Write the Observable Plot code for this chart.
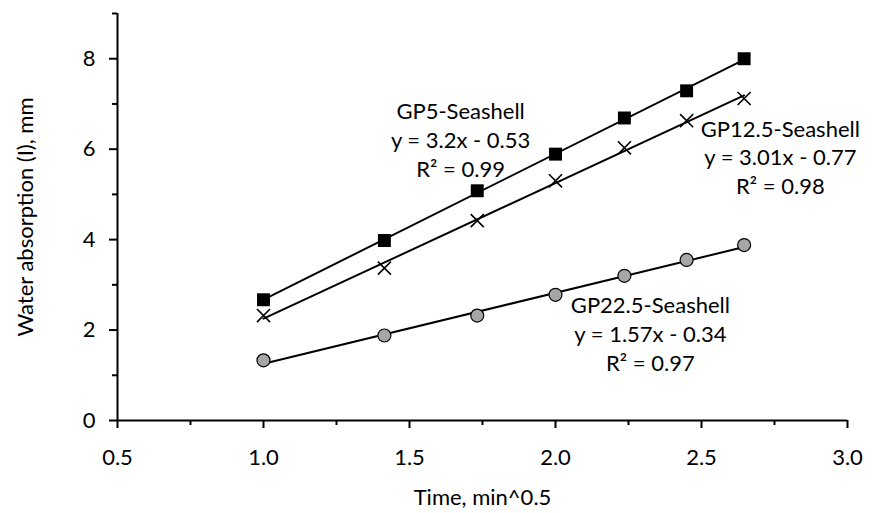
<!DOCTYPE html>
<html>
<head>
<meta charset="utf-8">
<script src="https://cdn.jsdelivr.net/npm/d3@7"></script>
<script src="https://cdn.jsdelivr.net/npm/@observablehq/plot@0.6"></script>
<style>
  html, body { margin: 0; padding: 0; background: #fff; }
  #chart { width: 872px; height: 513px; }
</style>
</head>
<body>
<div id="chart"></div>
<script>
// x = sqrt(time in minutes)
const xValues = [1.0, 1.414, 1.732, 2.0, 2.236, 2.449, 2.646];
const gp5 = [2.67, 3.98, 5.08, 5.89, 6.69, 7.29, 8.0];
const gp125 = [2.32, 3.37, 4.42, 5.30, 6.03, 6.63, 7.12];
const gp225 = [1.33, 1.88, 2.32, 2.78, 3.20, 3.55, 3.88];

const seriesNames = ["GP5-Seashell", "GP12.5-Seashell", "GP22.5-Seashell"];
const equations = ["y = 3.2x - 0.53", "y = 3.01x - 0.77", "y = 1.57x - 0.34"];
const r2 = ["R² = 0.99", "R² = 0.98", "R² = 0.97"];
// label anchor positions (data coords) for the trendline annotations
const labelX = [1.675, 2.77, 2.325];
const labelY = [6.23, 5.85, 1.94];

const xTicks = [0.5, 1.0, 1.5, 2.0, 2.5, 3.0];
const xMinor = [0.75, 1.25, 1.75, 2.25, 2.75];
const yTicks = [0, 2, 4, 6, 8];
const yMinor = [1, 3, 5, 7, 9];

const toRows = (vals, name) => vals.map((v, j) => ({series: name, x: xValues[j], y: v}));
const rows5 = toRows(gp5, seriesNames[0]);
const rows125 = toRows(gp125, seriesNames[1]);
const rows225 = toRows(gp225, seriesNames[2]);
const rows = [...rows5, ...rows125, ...rows225];
const labels = seriesNames.map((s, i) => ({text: s + "\n" + equations[i] + "\n" + r2[i], x: labelX[i], y: labelY[i]}));

const font = "Lato, 'Open Sans', sans-serif";
const fs = 22;

const plot = Plot.plot({
  width: 872,
  height: 513,
  marginLeft: 117,
  marginRight: 25,
  marginTop: 13,
  marginBottom: 93,
  style: {fontFamily: font, fontSize: fs + "px", color: "black", background: "white"},
  x: {domain: [0.5, 3.0]},
  y: {domain: [0, 9]},
  marks: [
    Plot.axisX({ticks: xMinor, tickSize: 5, tickFormat: () => "", strokeWidth: 2, label: null}),
    Plot.axisX({ticks: xTicks, tickSize: 8, tickPadding: 21, strokeWidth: 2, tickFormat: d3.format(".1f"),
      label: "Time, min^0.5", labelAnchor: "center", labelOffset: 84, labelArrow: "none", fontSize: fs}),
    Plot.axisY({ticks: yMinor, tickSize: 5, tickFormat: () => "", strokeWidth: 2, label: null}),
    Plot.axisY({ticks: yTicks, tickSize: 8, tickPadding: 14, strokeWidth: 2, tickFormat: d3.format("d"),
      label: "Water absorption (I), mm", labelAnchor: "center", labelOffset: 100, labelArrow: "none", fontSize: fs}),
    Plot.ruleY([0], {strokeWidth: 2}),
    Plot.ruleX([0.5], {strokeWidth: 2}),
    Plot.linearRegressionY(rows, {x: "x", y: "y", z: "series", stroke: "black", strokeWidth: 2, ci: 0}),
    Plot.dot(rows5, {x: "x", y: "y", symbol: "square", fill: "black", stroke: "none", r: 7.3}),
    Plot.dot(rows125, {x: "x", y: "y", symbol: "times", stroke: "black", strokeWidth: 1.6, r: 6}),
    Plot.dot(rows225, {x: "x", y: "y", symbol: "circle", fill: "#a6a6a6", stroke: "black", strokeWidth: 1.2, r: 6.5}),
    Plot.text(labels, {x: "x", y: "y", text: "text", textAnchor: "middle", lineAnchor: "middle",
      lineHeight: 1.3, fontSize: fs, fill: "black"})
  ]
});
document.getElementById("chart").appendChild(plot);
</script>
</body>
</html>
